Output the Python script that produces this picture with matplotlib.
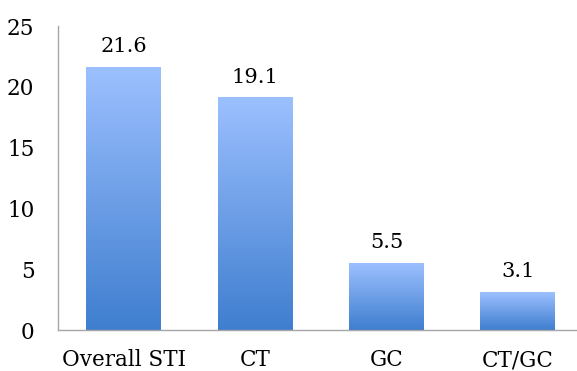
import matplotlib
matplotlib.use('Agg')
import matplotlib.pyplot as plt
from matplotlib.colors import LinearSegmentedColormap
import numpy as np

categories = ['Overall STI', 'CT', 'GC', 'CT/GC']
values = [21.6, 19.1, 5.5, 3.1]

plt.rcParams['font.family'] = ['DejaVu Serif']

fig = plt.figure(figsize=(5.77, 3.71), dpi=100)
ax = fig.add_axes([0.1005, 0.1105, 0.8995, 0.8194])

# light at the top, darker at the base
grad = LinearSegmentedColormap.from_list('bluegrad', ['#3f7ecf', '#9cc0ff'])

bars = ax.bar(range(len(values)), values, width=0.57, color='none', edgecolor='none')
g = np.linspace(0, 1, 256).reshape(-1, 1)
for b, v in zip(bars, values):
    x0 = b.get_x()
    x1 = x0 + b.get_width()
    ax.imshow(g, extent=[x0, x1, 0, v], origin='lower', aspect='auto', cmap=grad, zorder=2)
    ax.text(b.get_x() + b.get_width() / 2, v + 0.9, f'{v}', ha='center', va='bottom', fontsize=15)

ax.set_xlim(-0.5, 3.45)
ax.set_ylim(0, 25)
ax.set_yticks([0, 5, 10, 15, 20, 25])
ax.set_xticks(range(len(categories)))
ax.set_xticklabels(categories)
ax.tick_params(length=0, labelsize=15.5)
ax.tick_params(axis='y', pad=17)
ax.tick_params(axis='x', pad=14)

for s in ['top', 'right']:
    ax.spines[s].set_visible(False)
for s in ['left', 'bottom']:
    ax.spines[s].set_color('#a6a6a6')
    ax.spines[s].set_linewidth(1.0)

fig.savefig('out.png', dpi=100)
